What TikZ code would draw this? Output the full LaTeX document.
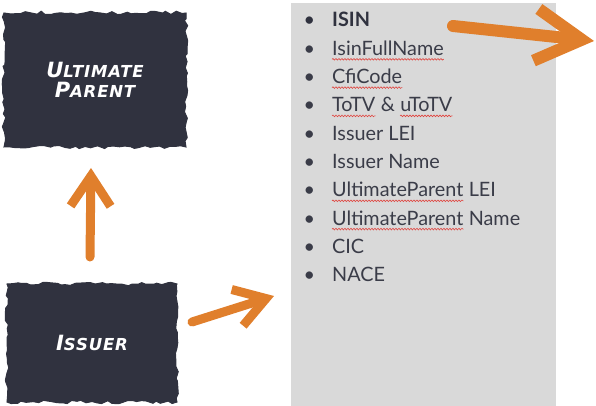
\documentclass[tikz,border=0pt]{standalone}
\usepackage{fontspec}
\setmainfont{Lato}
\newfontfamily\handfont[LetterSpace=5]{DejaVu Sans}
\usetikzlibrary{arrows.meta,decorations.pathmorphing}
\definecolor{slate}{HTML}{30323F}
\definecolor{panelgrey}{HTML}{D9D9D9}
\definecolor{pen}{HTML}{E07F2C}
\definecolor{listtext}{HTML}{3A3C48}
\definecolor{squigred}{HTML}{E0453F}
\newcommand{\boxcaps}[2]{{\fontsize{21}{21}\selectfont #1}{\fontsize{16.5}{16.5}\selectfont #2}}
\newcommand{\blt}{\llap{\textbullet\hspace{17pt}}}

\begin{document}
\pgfmathsetseed{11}
\begin{tikzpicture}[x=1pt, y=-1pt,
    roughbox/.style={fill=slate, draw=slate, line width=1pt, text=white, align=center,
        decorate, decoration={random steps, segment length=5pt, amplitude=1.8pt},
        font=\handfont\bfseries\itshape},
    item/.style={anchor=base west, inner sep=0pt, text=listtext,
        font=\fontsize{19.8}{21}\selectfont},
    pen/.style={draw=pen, line width=9pt, line cap=round, line join=round},
    squig/.style={draw=squigred, line width=.6pt, decorate,
        decoration={snake, amplitude=.8pt, segment length=3pt}}]

    \useasboundingbox (0,0) rectangle (596,406);

    % grey list panel
    \node[fill=panelgrey, inner sep=0pt, minimum width=265pt, minimum height=404pt,
        anchor=north west] (panel) at (291,3) {};

    % entity boxes
    \node[roughbox, minimum width=182pt, minimum height=134pt] (parent) at (95,80)
        {\boxcaps{U}{LTIMATE}\\[3pt]\boxcaps{P}{ARENT}};
    \node[roughbox, minimum width=170pt, minimum height=118pt] (issuer) at (92,343)
        {\boxcaps{I}{SSUER}};

    % list of fields
    \node[item, text=slate] (isin) at (332,27) {\blt\textbf{ISIN}};
    \node[item] (fullname) at ([yshift=-28.3pt]isin.base west) {\blt IsinFullName};
    \node[item] (cfi) at ([yshift=-28.3pt]fullname.base west) {\blt CfiCode};
    \node[item] (totv) at ([yshift=-28.3pt]cfi.base west) {\blt ToTV};
    \node[item] (amp) at (totv.base east) {\ \&\kern.25em};
    \node[item] (utotv) at (amp.base east) {uToTV};
    \node[item] (islei) at ([yshift=-28.3pt]totv.base west) {\blt Issuer LEI};
    \node[item] (isname) at ([yshift=-28.3pt]islei.base west) {\blt Issuer Name};
    \node[item] (uplei) at ([yshift=-28.3pt]isname.base west) {\blt UltimateParent};
    \node[item] (upleitail) at (uplei.base east) {\ LEI};
    \node[item] (upname) at ([yshift=-28.3pt]uplei.base west) {\blt UltimateParent};
    \node[item] (upnametail) at (upname.base east) {\ Name};
    \node[item] (cic) at ([yshift=-28.3pt]upname.base west) {\blt CIC};
    \node[item] (nace) at ([yshift=-28.3pt]cic.base west) {\blt NACE};

    % spell-check marks
    \foreach \w in {fullname, cfi, totv, utotv, uplei, upname}
        \draw[squig] ([yshift=-4pt]\w.base west) -- ([yshift=-4pt]\w.base east);

    % arrows
    \coordinate (upfoot) at (90,257);
    \coordinate (uptip) at (91,168);
    \coordinate (sidefoot) at (192,322);
    \coordinate (sidetip) at (274,296);
    \coordinate (topfoot) at (453,26);
    \coordinate (toptip) at (594,41);

    \draw[pen, -{Straight Barb[length=30pt, width=40pt]}] (upfoot) -- (uptip);
    \draw[pen, -{Straight Barb[length=30pt, width=38pt]}] (sidefoot) -- (sidetip);
    \draw[pen, line width=12pt, -{Straight Barb[length=46pt, width=52pt]}] (topfoot) -- (toptip);
\end{tikzpicture}
\end{document}
